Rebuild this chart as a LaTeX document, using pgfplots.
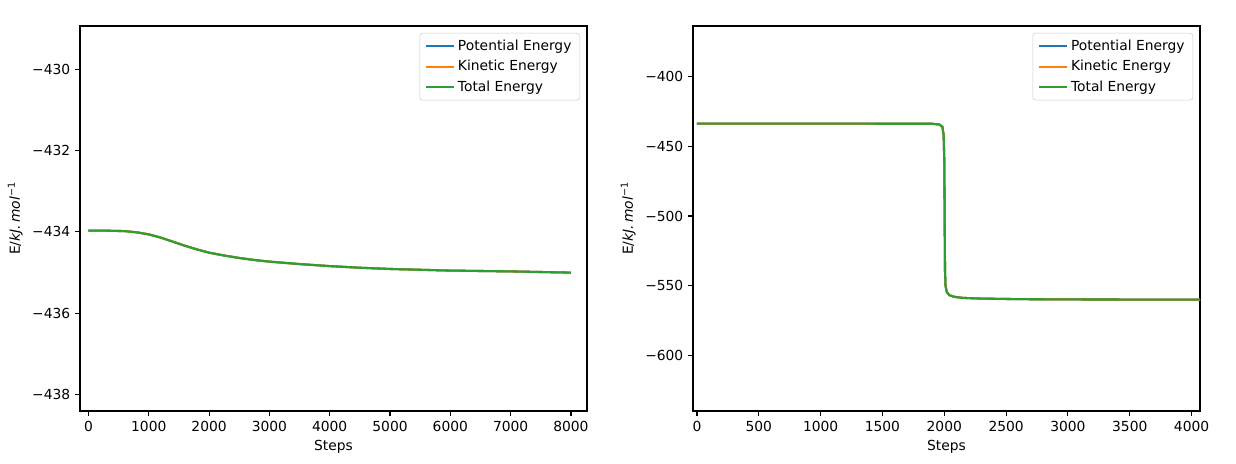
\documentclass[border=0pt]{standalone}
\usepackage{fontspec}
\setmainfont{DejaVu Sans}
\usepackage{pgfplots}
\pgfplotsset{compat=1.18}
\definecolor{c0}{HTML}{1F77B4}
\definecolor{c1}{HTML}{FF7F0E}
\definecolor{c2}{HTML}{2CA02C}

% matplotlib-like look, 1px = 0.72bp
\pgfplotsset{mpl/.style={
  scale only axis, width=365.04bp, height=277.2bp, anchor=south west,
  axis line style={line width=0.8bp}, tick style={line width=0.8bp, black},
  tick align=outside, major tick length=3.5bp,
  xtick pos=bottom, ytick pos=left,
  /pgf/number format/assume math mode=true, /pgf/number format/1000 sep={},
  tick label style={font=\fontsize{10}{12}\selectfont},
  label style={font=\fontsize{10}{12}\selectfont},
  xlabel=Steps, ylabel={E/\textit{kJ.\,mol}\textsuperscript{−1}},
  legend style={at={(1,1)}, xshift=-5bp, yshift=-5bp, anchor=north east,
    draw=black!20, rounded corners=2pt, fill opacity=0.8, text opacity=1,
    font=\fontsize{10}{12}\selectfont, inner xsep=4bp, inner ysep=3bp,
    row sep=1.5bp},
  legend cell align=left,
  legend image code/.code={\draw[#1, line width=1.5bp] (0bp,0bp) -- (20bp,0bp);},
  every axis plot/.append style={line width=1.5bp},
}}

\pgfplotstableread{
x y
0 -433.97
300 -433.97
600 -433.98
800 -434.01
1000 -434.06
1200 -434.14
1400 -434.24
1600 -434.34
1800 -434.43
2000 -434.51
2250 -434.58
2500 -434.64
2750 -434.69
3000 -434.73
3500 -434.79
4000 -434.84
4500 -434.88
5000 -434.91
5500 -434.93
6000 -434.95
6500 -434.96
7000 -434.97
7500 -434.985
8000 -435.00
}\runA

\pgfplotstableread{
x y
0 -433.7
1000 -433.7
1900 -433.8
1960 -434.3
1985 -436
1995 -442
2000 -460
2003 -500
2006 -540
2010 -550
2020 -554.5
2040 -556.8
2080 -558.0
2150 -558.8
2300 -559.3
2600 -559.7
3000 -559.9
3500 -560.0
4068 -560.1
}\runB

\begin{document}
\begin{tikzpicture}
\useasboundingbox (0,0) rectangle (889.92bp,334.08bp);
\begin{axis}[mpl, at={(57.6bp,38.16bp)},
  xmin=-140, xmax=8266, ymin=-438.4, ymax=-428.94,
  xtick={0,1000,...,8000},
  ytick={-438,-436,-434,-432,-430},
  yticklabels={−438,−436,−434,−432,−430}]
\addplot[c0] table[x=x,y=y] {\runA};
\addlegendentry{Potential Energy}
\addplot[c1] table[x=x,y=y] {\runA};
\addlegendentry{Kinetic Energy}
\addplot[c2] table[x=x,y=y] {\runA};
\addlegendentry{Total Energy}
\end{axis}
\begin{axis}[mpl, at={(498.96bp,38.16bp)},
  xmin=-32, xmax=4068, ymin=-640, ymax=-363.6,
  xtick={0,500,...,4000},
  ytick={-600,-550,-500,-450,-400},
  yticklabels={−600,−550,−500,−450,−400}]
\addplot[c0] table[x=x,y=y] {\runB};
\addlegendentry{Potential Energy}
\addplot[c1] table[x=x,y=y] {\runB};
\addlegendentry{Kinetic Energy}
\addplot[c2] table[x=x,y=y] {\runB};
\addlegendentry{Total Energy}
\end{axis}
\end{tikzpicture}
\end{document}
